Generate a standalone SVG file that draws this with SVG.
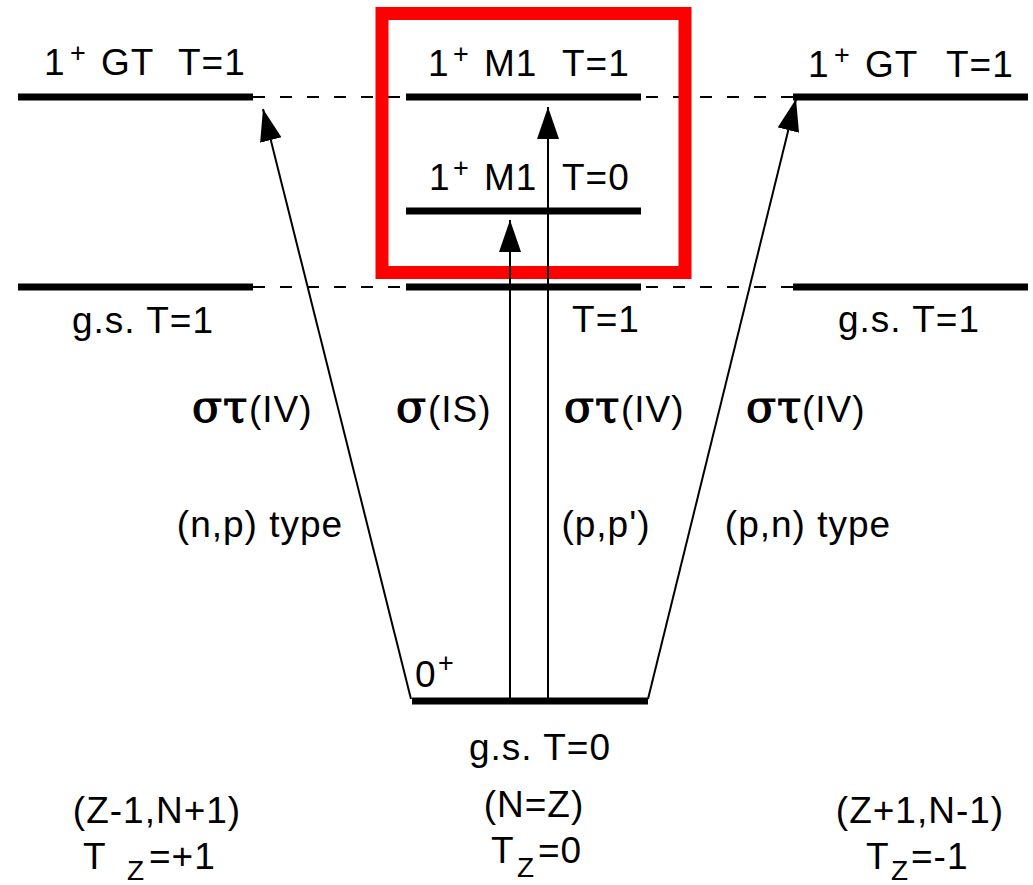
<svg xmlns="http://www.w3.org/2000/svg" width="1033" height="885" viewBox="0 0 1033 885">
<style>
text{font-family:"Liberation Sans",Arial,sans-serif;font-size:37px;letter-spacing:1px;fill:#000}
.sup{font-size:27px;letter-spacing:0}
.sub{font-size:28px;letter-spacing:0}
.gr{font-family:"DejaVu Serif","Liberation Serif",serif;font-size:44px;letter-spacing:0;stroke:#000;stroke-width:1.2}
.lvl{stroke:#000;stroke-width:7;fill:none}
.dash{stroke:#000;stroke-width:2;stroke-dasharray:12 15;fill:none}
.arr{stroke:#000;stroke-width:2;fill:none;marker-end:url(#ah)}
.m{text-anchor:middle}
</style>
<defs>
<marker id="ah" markerUnits="userSpaceOnUse" markerWidth="34" markerHeight="24" refX="32" refY="11" orient="auto">
<path d="M0,0 L32,11 L0,22 Z" fill="#000"/>
</marker>
</defs>
<rect x="0" y="0" width="1033" height="885" fill="#fff"/>
<g id="dashes">
<line class="dash" x1="253" y1="97" x2="406" y2="97"/>
<line class="dash" x1="646" y1="97" x2="793" y2="97"/>
<line class="dash" x1="253" y1="287" x2="406" y2="287"/>
<line class="dash" x1="646" y1="287" x2="793" y2="287"/>
</g>
<g id="level-left-gt"><line class="lvl" x1="18" y1="97" x2="253" y2="97"/>
<text x="44" y="75">1</text><text class="sup" x="70" y="62">+</text><text x="101" y="75">GT</text><text x="178" y="75">T=1</text></g>
<g id="level-left-gs"><line class="lvl" x1="18" y1="287" x2="253" y2="287"/>
<text class="m" x="143" y="333">g.s. T=1</text></g>
<g id="level-m1-t1"><line class="lvl" x1="406" y1="97" x2="641" y2="97"/>
<text x="428" y="76">1</text><text class="sup" x="453" y="63">+</text><text x="484" y="76">M1</text><text x="562" y="76">T=1</text></g>
<g id="level-m1-t0"><line class="lvl" x1="406" y1="211" x2="641" y2="211"/>
<text x="429" y="190">1</text><text class="sup" x="453" y="177">+</text><text x="484" y="190">M1</text><text x="562" y="190">T=0</text></g>
<g id="level-center-t1"><line class="lvl" x1="406" y1="287" x2="641" y2="287"/>
<text class="m" x="606" y="332">T=1</text></g>
<g id="level-right-gt"><line class="lvl" x1="793" y1="97" x2="1028" y2="97"/>
<text x="808" y="77">1</text><text class="sup" x="834" y="64">+</text><text x="865" y="77">GT</text><text x="946" y="77">T=1</text></g>
<g id="level-right-gs"><line class="lvl" x1="793" y1="287" x2="1028" y2="287"/>
<text class="m" x="909" y="332">g.s. T=1</text></g>
<g id="ground"><line class="lvl" x1="412" y1="701" x2="648" y2="701"/>
<text x="415" y="687">0</text><text class="sup" x="438" y="672">+</text>
<text class="m" x="540" y="760">g.s. T=0</text></g>
<rect id="highlight" x="382" y="13.5" width="303" height="259" fill="none" stroke="#ff0000" stroke-width="13"/>
<g id="connectors">
<line class="arr" x1="411" y1="699" x2="263" y2="109"/>
<line class="arr" x1="510" y1="699" x2="510" y2="220"/>
<line class="arr" x1="548" y1="699" x2="548" y2="107"/>
<line class="arr" x1="648" y1="699" x2="796" y2="99"/>
</g>
<g id="labels">
<text class="gr" x="192" y="422">σ</text><text class="gr" x="223" y="422">τ</text><text x="249" y="422">(IV)</text>
<text class="gr" x="396" y="422">σ</text><text x="428" y="422">(IS)</text>
<text class="gr" x="564" y="422">σ</text><text class="gr" x="595" y="422">τ</text><text x="621" y="422">(IV)</text>
<text class="gr" x="746" y="422">σ</text><text class="gr" x="777" y="422">τ</text><text x="802" y="422">(IV)</text>
<text class="m" x="260" y="537">(n,p) type</text>
<text class="m" x="606" y="537">(p,p')</text>
<text class="m" x="808" y="537">(p,n) type</text>
</g>
<g id="nucleus-left">
<text class="m" x="157" y="823">(Z-1,N+1)</text>
<text x="83" y="869">T</text><text class="sub" x="127" y="880">Z</text><text x="149" y="869">=+1</text>
</g>
<g id="nucleus-center">
<text class="m" x="534" y="817">(N=Z)</text>
<text x="491" y="863">T</text><text class="sub" x="517" y="877">Z</text><text x="538" y="863">=0</text>
</g>
<g id="nucleus-right">
<text class="m" x="920" y="823">(Z+1,N-1)</text>
<text x="866" y="869">T</text><text class="sub" x="891" y="880">Z</text><text x="911" y="869">=-1</text>
</g>
</svg>
